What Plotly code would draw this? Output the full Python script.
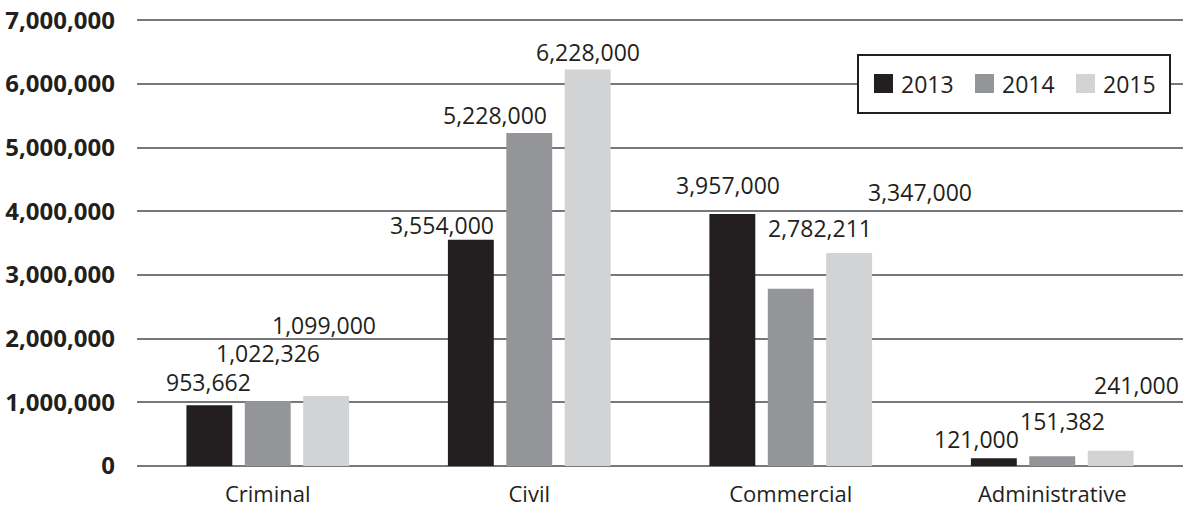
import plotly.graph_objects as go

categories = ["Criminal", "Civil", "Commercial", "Administrative"]
years = ["2013", "2014", "2015"]
values_2013 = [953662, 3554000, 3957000, 121000]
values_2014 = [1022326, 5228000, 2782211, 151382]
values_2015 = [1099000, 6228000, 3347000, 241000]
y_ticks = [0, 1000000, 2000000, 3000000, 4000000, 5000000, 6000000, 7000000]

series = [values_2013, values_2014, values_2015]
colors = ["#231f20", "#939598", "#d1d3d4"]

# label offsets (pixels) relative to category centre / bar top, as in the reference
label_dx = [[-59, -87, -63, -76], [0, -34, 29, 10], [56, 59, 129, 84]]
label_dy = [[23, 15, 29, 19], [48, 18, 61, 35], [71, 17, 61, 66]]

FONT = "Open Sans"
TXT = "#231f20"
W, H = 1183, 510
ML, MR, MT, MB = 137, 0, 19, 44
PW, PH = W - ML - MR, H - MT - MB


def px(xp):
    return (xp - ML) / PW


def py(yp):
    return (H - MB - yp) / PH


fig = go.Figure()
for yr, vals, col in zip(years, series, colors):
    fig.add_trace(go.Bar(name=yr, x=categories, y=vals, showlegend=False, hoverinfo="skip",
                         marker=dict(color=col, line=dict(width=0))))

annotations = []
for i, vals in enumerate(series):
    for j, v in enumerate(vals):
        annotations.append(dict(
            x=categories[j], y=v, xref="x", yref="y", text=f"{v:,}", showarrow=False,
            xanchor="center", yanchor="middle", xshift=label_dx[i][j], yshift=label_dy[i][j],
            font=dict(family=FONT, size=23, color=TXT)))

# custom legend (box, swatches, labels)
shapes = [dict(type="rect", xref="paper", yref="paper", x0=px(858), x1=px(1170), y0=py(113), y1=py(55),
               line=dict(color=TXT, width=2), fillcolor="white", layer="above")]
legend_x = [874, 975, 1076]
for yr, col, lx in zip(years, colors, legend_x):
    shapes.append(dict(type="rect", xref="paper", yref="paper", x0=px(lx), x1=px(lx + 19),
                       y0=py(93), y1=py(74), line=dict(width=0), fillcolor=col, layer="above"))
    annotations.append(dict(x=px(lx + 25), y=py(84), xref="paper", yref="paper", text=yr,
                            showarrow=False, xanchor="left", yanchor="middle",
                            font=dict(family=FONT, size=23, color=TXT)))

fig.update_layout(
    width=W, height=H,
    margin=dict(l=ML, r=MR, t=MT, b=MB),
    paper_bgcolor="white", plot_bgcolor="white",
    barmode="group", bargap=0.33, bargroupgap=0.214,
    font=dict(family=FONT, color=TXT),
    showlegend=False,
    annotations=annotations,
    shapes=shapes,
)
fig.update_xaxes(showgrid=False, showline=False, ticks="", ticklabelstandoff=13, automargin=False,
                 tickfont=dict(family=FONT, size=22, color=TXT), range=[-0.5, 3.5])
fig.update_yaxes(range=[0, 7020000], tickvals=y_ticks, ticktext=[f"{t:,}" for t in y_ticks],
                 showgrid=True, gridcolor="#77787b", gridwidth=2, automargin=False,
                 zeroline=True, zerolinecolor="#77787b", zerolinewidth=2,
                 showline=False, ticks="", ticklabelstandoff=21,
                 tickfont=dict(family=FONT, size=24, color=TXT, weight="bold"))

fig.write_html("out.html", config={"displayModeBar": False, "staticPlot": True},
               post_script="document.body.style.margin='0';document.body.style.overflow='hidden';")
